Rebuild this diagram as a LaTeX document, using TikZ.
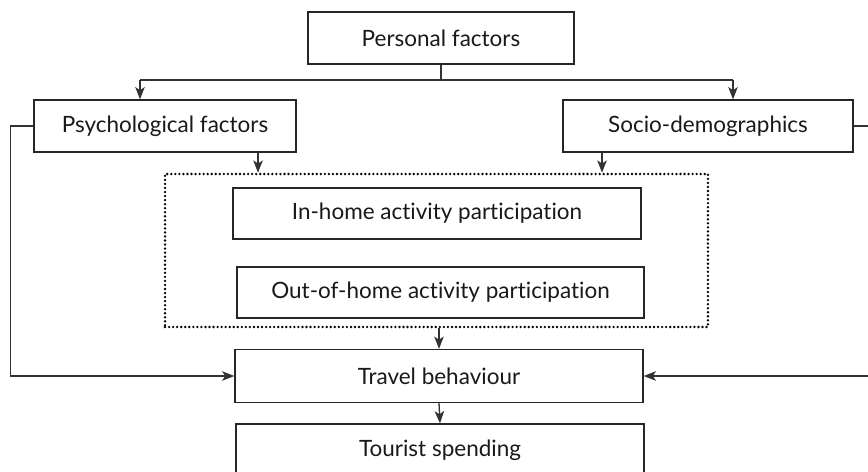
\documentclass[tikz,border=0pt]{standalone}
\usepackage{fontspec}
\setmainfont{Lato}[Ligatures={NoCommon,NoDiscretionary}]
\usepackage{tikz}
\usetikzlibrary{arrows.meta}

\tikzset{
    factor/.style={draw=black!85, line width=0.75pt, rectangle, minimum height=1.04cm, inner sep=0pt, font=\fontsize{12.8}{15}\selectfont, text=black!90},
    link/.style={draw=black!80, line width=0.75pt}
}

\begin{document}
\begin{tikzpicture}[x=0.02cm, y=-0.02cm, >={Stealth[length=7pt, width=5.4pt, inset=1.8pt]}]

    \useasboundingbox (0,0) rectangle (868,471);

    % boxes, coordinates in pixels of the original
    \node[factor, minimum width=5.32cm] (pers) at (441,38) {Personal factors};
    \node[factor, minimum width=5.24cm] (psych) at (165,126) {Psychological factors};
    \node[factor, minimum width=5.8cm] (socio) at (708,126) {Socio-demographics};

    \node[draw=black, line width=1.5pt, dash pattern=on 0pt off 2.3pt, line cap=round,
          minimum width=10.86cm, minimum height=3.06cm] (act) at (436.5,250.5) {};
    \node[factor, minimum width=8.16cm, minimum height=1.02cm] (inhome) at (437,213.5) {In-home activity participation};
    \node[factor, minimum width=8.14cm, minimum height=1.02cm] (outhome) at (440.5,292.5) {Out-of-home activity participation};

    \node[factor, minimum width=8.16cm, minimum height=1.06cm] (travel) at (439,376) {Travel behaviour};
    \node[factor, minimum width=8.16cm] (tourist) at (440,450) {Tourist spending};

    % split of personal factors
    \coordinate (lj) at (140,80);
    \coordinate (rj) at (733,80);
    \draw[link] (pers.south) -- (pers.south |- lj);
    \draw[link] (lj) -- (rj);
    \draw[link, ->] (lj) -- (lj |- psych.north);
    \draw[link, ->] (rj) -- (rj |- socio.north);

    % into the activities
    \coordinate (pa) at (258,0);
    \coordinate (sa) at (602,0);
    \draw[link, ->] (psych.south -| pa) -- (act.north -| pa);
    \draw[link, ->] (socio.south -| sa) -- (act.north -| sa);

    % direct effects on travel
    \draw[link, ->] (psych.west) -- ++(-23,0) |- (travel.west);
    \draw[link, ->] (socio.east) -- ++(40,0) |- (travel.east);

    \draw[link, ->] (act.south -| travel.north) -- (travel.north);
    \draw[link, ->] (travel.south) -- (tourist.north);
\end{tikzpicture}
\end{document}
